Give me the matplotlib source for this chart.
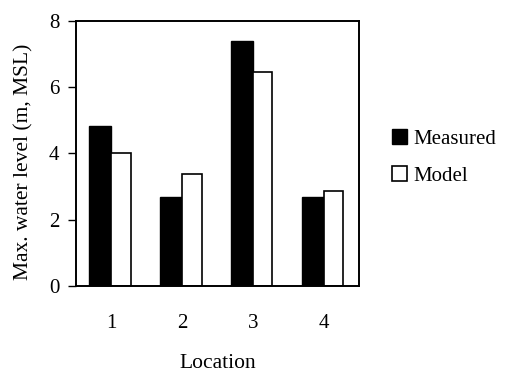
import matplotlib.pyplot as plt
import numpy as np

plt.rcParams['font.family'] = ['Liberation Serif', 'DejaVu Serif']

locations = ['1', '2', '3', '4']
measured = [4.82, 2.69, 7.38, 2.69]
model = [4.00, 3.38, 6.46, 2.85]

x = np.arange(1, len(locations) + 1)

fig = plt.figure(figsize=(5.05, 3.75), dpi=100)
ax = fig.add_axes([0.1505, 0.2373, 0.5605, 0.7075])

ax.bar(x, measured, -0.31, align='edge', color='black', edgecolor='black', linewidth=1, label='Measured')
ax.bar(x, model, 0.275, align='edge', color='white', edgecolor='black', linewidth=1.2, label='Model')

ax.set_xlim(0.5, 4.5)
ax.set_ylim(0, 8)
ax.set_yticks([0, 2, 4, 6, 8])
ax.set_xticks(x)
ax.set_xticklabels(locations)
ax.tick_params(axis='y', direction='out', length=6, width=1, labelsize=15, pad=6)
ax.tick_params(axis='x', length=0, labelsize=15, pad=20)
for s in ax.spines.values():
    s.set_linewidth(1.4)

ax.set_ylabel('Max. water level (m, MSL)', fontsize=15.5)
ax.yaxis.set_label_coords(-0.15, 0.47)
ax.set_xlabel('Location', fontsize=15.5, labelpad=15)

ax.legend(loc='center left', bbox_to_anchor=(1.117, 0.484), frameon=False, fontsize=15,
          borderpad=0, borderaxespad=0, handlelength=0.72, handleheight=0.72,
          handletextpad=0.3, labelspacing=0.85)

fig.savefig('out.png', dpi=100)
